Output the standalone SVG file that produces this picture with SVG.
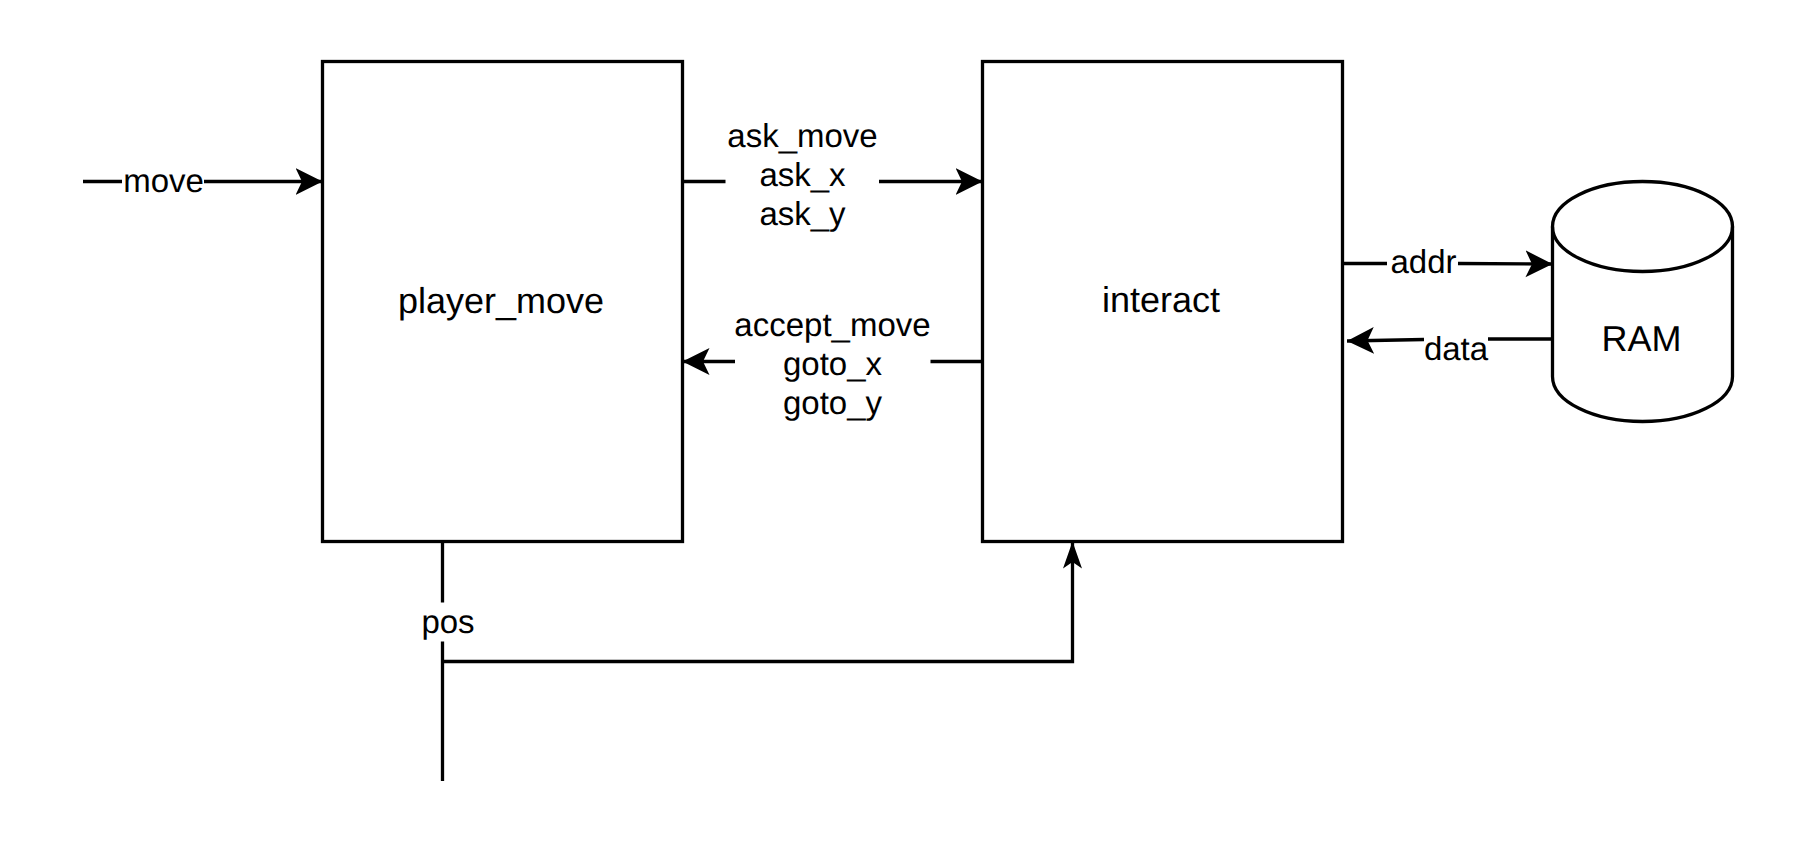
<svg xmlns="http://www.w3.org/2000/svg" width="1797" height="846" viewBox="0 0 1797 846">
<style>
text{font-family:"Liberation Sans",Arial,sans-serif;fill:#000;text-anchor:middle;text-rendering:geometricPrecision}
.n{font-size:36px}
.l{font-size:33px}
.s{fill:#fff;stroke:#000;stroke-width:3.300}
.c{fill:none;stroke:#000;stroke-width:3.300}
</style>
<defs>
<marker id="a" markerUnits="userSpaceOnUse" markerWidth="29" markerHeight="30" refX="27" refY="14" orient="auto"><path d="M27 14L0 0.5L6.500 14L0 27.500Z" fill="#000"/></marker>
<marker id="b" markerUnits="userSpaceOnUse" markerWidth="29" markerHeight="22" refX="27" refY="10" orient="auto"><path d="M27 10L0 0.500L6.500 10L0 19.500Z" fill="#000"/></marker>
</defs>
<g id="connectors">
<path class="c" d="M83 181.500H122M204 181.500H322.500" marker-end="url(#a)"/>
<path class="c" d="M682.500 181.500H725.500M879 181.500H982.500" marker-end="url(#a)"/>
<path class="c" d="M982.500 361.500H930.500M735 361.500H682.500" marker-end="url(#a)"/>
<path class="c" d="M1342.500 263.500H1387M1458 263.500L1552.500 264" marker-end="url(#a)"/>
<path class="c" d="M1552.500 339H1488M1424 339.500L1347 341" marker-end="url(#a)"/>
<path class="c" d="M442.500 541.500V602.500M442.500 641.500V781"/>
<path class="c" d="M442.500 661.500H1072.500V541.500" marker-end="url(#b)"/>
<text class="l" x="163.500" y="192">move</text>
<text class="l" x="802.500" y="147">ask_move</text>
<text class="l" x="802.500" y="185.500">ask_x</text>
<text class="l" x="802.500" y="225">ask_y</text>
<text class="l" x="832.500" y="336">accept_move</text>
<text class="l" x="832.500" y="374.500">goto_x</text>
<text class="l" x="832.500" y="414">goto_y</text>
<text class="l" x="1423.500" y="273">addr</text>
<text class="l" x="1456" y="360">data</text>
<text class="l" x="448" y="633">pos</text>
</g>
<g id="player_move">
<rect class="s" x="322.500" y="61.500" width="360" height="480"/>
<text class="n" x="501" y="312.500">player_move</text>
</g>
<g id="interact">
<rect class="s" x="982.500" y="61.500" width="360" height="480"/>
<text class="n" x="1161" y="312">interact</text>
</g>
<g id="RAM">
<path class="s" d="M1552.500 226.500C1552.500 201.600 1592.800 181.500 1642.500 181.500C1692.200 181.500 1732.500 201.600 1732.500 226.500V376.500C1732.500 401.400 1692.200 421.500 1642.500 421.500C1592.800 421.500 1552.500 401.400 1552.500 376.500Z"/>
<path class="c" d="M1552.500 226.500C1552.500 251.400 1592.800 271.500 1642.500 271.500C1692.200 271.500 1732.500 251.400 1732.500 226.500"/>
<text class="n" x="1641.500" y="351">RAM</text>
</g>
</svg>
